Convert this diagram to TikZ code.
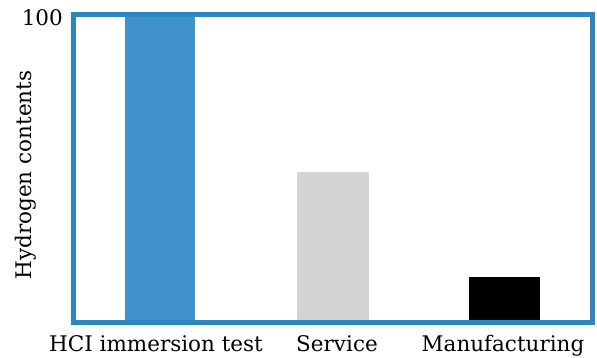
\documentclass[tikz,border=0pt]{standalone}
\usepackage{fontspec}
\setmainfont{DejaVu Serif}
\definecolor{frameblue}{HTML}{2E86C1}
\definecolor{barblue}{HTML}{3F92CA}
\definecolor{bargrey}{HTML}{D3D3D3}
\begin{document}
\begin{tikzpicture}[x=1pt,y=-1pt,
  lbl/.style={font=\fontsize{21.5}{24}\selectfont, inner sep=0pt}]
\useasboundingbox (0,0) rectangle (597,358);
\fill[white] (0,0) rectangle (597,358);
\fill[barblue] (125,12) rectangle (195,320);
\fill[bargrey] (297,172) rectangle (369,320);
\fill[black] (469,277) rectangle (540,320);
\node[draw=frameblue, line width=5pt, minimum width=519pt, minimum height=308pt, anchor=north west, inner sep=0pt] (frame) at (71,12) {};
\node[lbl, anchor=base east] (t100) at (63,26) {100};
\node[lbl, rotate=90, anchor=base] (ylab) at (31,175) {Hydrogen contents};
\node[lbl, anchor=base] (l1) at (156,351) {HCI immersion test};
\node[lbl, anchor=base] (l2) at (337,351) {Service};
\node[lbl, anchor=base] (l3) at (503,351) {Manufacturing};
\end{tikzpicture}
\end{document}
